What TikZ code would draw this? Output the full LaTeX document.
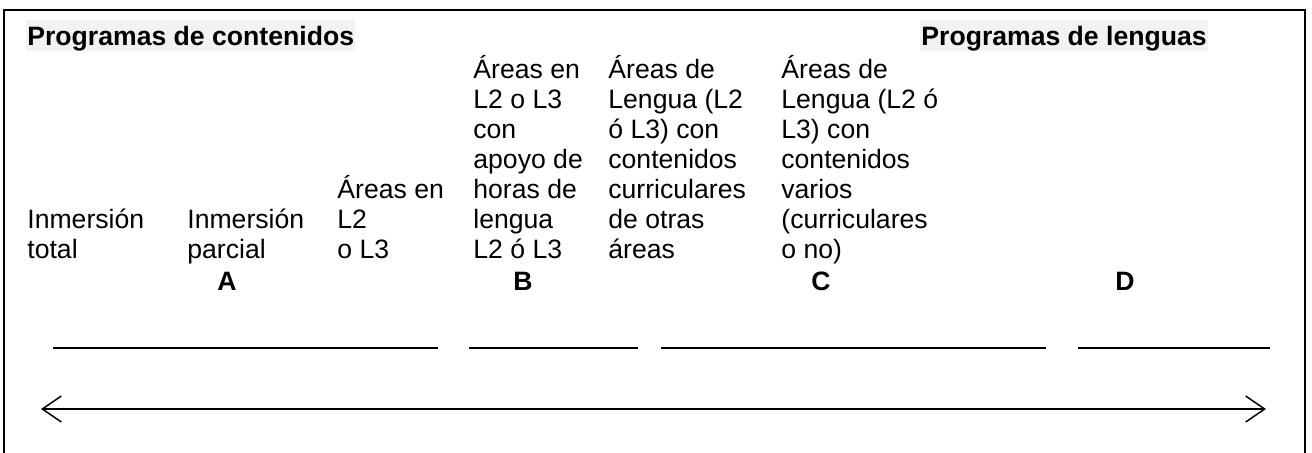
\documentclass[tikz,border=0pt]{standalone}
\usepackage{fontspec}
\setmainfont{Liberation Sans}
\usetikzlibrary{arrows.meta}
\definecolor{hdrbg}{RGB}{242,242,242}
\begin{document}
\begin{tikzpicture}[x=0.5pt,y=-0.5pt,
  basefont/.style={font=\fontsize{13.3pt}{15pt}\selectfont},
  basefont,
  txt/.style={anchor=base west, inner sep=0pt, align=left},
  hdr/.style={anchor=base west, fill=hdrbg, inner xsep=0.5pt, inner ysep=0pt,
    text height=12.5pt, text depth=3pt, font=\fontsize{13.3pt}{15pt}\selectfont\bfseries},
  lbl/.style={anchor=base, inner sep=0pt, font=\fontsize{13.3pt}{15pt}\selectfont\bfseries},
  seg/.style={line width=0.75pt},
  frame/.style={line width=1.25pt},
  span/.style={line width=0.75pt, {Straight Barb[length=9.5pt,width=13pt,line width=0.75pt]}-{Straight Barb[length=9.5pt,width=13pt,line width=0.75pt]}}]
\useasboundingbox (0,0) rectangle (1312,452);
% frame (bottom edge lies outside the picture)
\coordinate (fbl) at (4,460);
\coordinate (ftl) at (4,10);
\coordinate (ftr) at (1305,10);
\coordinate (fbr) at (1305,460);
\draw[frame] (fbl) -- (ftl) -- (ftr) -- (fbr);
% headers
\node[hdr] (hcont) at (26,45) {Programas de contenidos};
\node[hdr] (hleng) at (920,45) {Programas de lenguas};
% columns
\node[txt] (c1) at (27,258) {Inmersión\\total};
\node[txt] (c2) at (187,258) {Inmersión\\parcial};
\node[txt] (c3) at (337,258) {Áreas en\\L2\\o L3};
\node[txt] (c4) at (473,258) {Áreas en\\L2 o L3\\con\\apoyo de\\horas de\\lengua\\L2 ó L3};
\node[txt] (c5) at (608,258) {Áreas de\\Lengua (L2\\ó L3) con\\contenidos\\curriculares\\de otras\\áreas};
\node[txt] (c6) at (781,258) {Áreas de\\Lengua (L2 ó\\L3) con\\contenidos\\varios\\(curriculares\\o no)};
% letters
\node[lbl] (la) at (227,290) {A};
\node[lbl] (lb) at (523,290) {B};
\node[lbl] (lc) at (821,290) {C};
\node[lbl] (ld) at (1125,290) {D};
% group lines
\coordinate (s1a) at (53,348);  \coordinate (s1b) at (438,348);
\coordinate (s2a) at (469,348); \coordinate (s2b) at (638,348);
\coordinate (s3a) at (661,348); \coordinate (s3b) at (1046,348);
\coordinate (s4a) at (1078,348);\coordinate (s4b) at (1270,348);
\draw[seg] (s1a) -- (s1b);
\draw[seg] (s2a) -- (s2b);
\draw[seg] (s3a) -- (s3b);
\draw[seg] (s4a) -- (s4b);
% continuum arrow
\coordinate (al) at (41,409);
\coordinate (ar) at (1266,409);
\draw[span] (al) -- (ar);
\end{tikzpicture}
\end{document}
